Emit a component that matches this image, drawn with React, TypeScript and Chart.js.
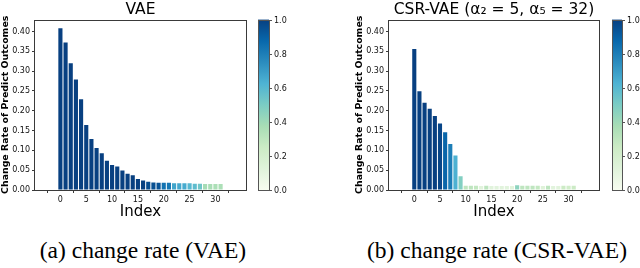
import React, { useEffect, useRef } from "react";
import { Chart, registerables } from "chart.js";

Chart.register(...registerables);

// ---- data ----
const indices = Array.from({ length: 32 }, (_, i) => i);
const xTickValues = [0, 5, 10, 15, 20, 25, 30];
const yTickValues = [0, 0.05, 0.1, 0.15, 0.2, 0.25, 0.3, 0.35, 0.4];
const colorbarTicks = [0, 0.2, 0.4, 0.6, 0.8, 1.0];

const vaeTitle = "VAE";
const vaeValues = [
  0.408, 0.372, 0.32, 0.279, 0.229, 0.164, 0.129, 0.106, 0.093, 0.074, 0.063,
  0.059, 0.049, 0.041, 0.037, 0.028, 0.024, 0.021, 0.019, 0.018, 0.018, 0.018,
  0.017, 0.017, 0.017, 0.017, 0.016, 0.016, 0.015, 0.015, 0.015, 0.015,
];
const vaeLevels = [
  1, 1, 1, 1, 1, 1, 1, 1, 1, 1, 1, 1, 1, 1, 1, 1, 1, 0.96, 0.95, 0.94, 0.84,
  0.82, 0.67, 0.66, 0.65, 0.6, 0.58, 0.53, 0.38, 0.37, 0.36, 0.36,
];

const csrTitle = "CSR-VAE (α₂ = 5, α₅ = 32)";
const csrValues = [
  0.356, 0.249, 0.22, 0.205, 0.187, 0.168, 0.146, 0.116, 0.087, 0.035, 0.011,
  0.011, 0.011, 0.01, 0.011, 0.01, 0.01, 0.01, 0.01, 0.01, 0.012, 0.011, 0.011,
  0.011, 0.011, 0.01, 0.011, 0.01, 0.01, 0.011, 0.011, 0.011,
];
const csrLevels = [
  1, 1, 1, 1, 1, 0.98, 0.88, 0.8, 0.63, 0.48, 0.3, 0.3, 0.28, 0.12, 0.3, 0.12,
  0.12, 0.12, 0.12, 0.12, 0.45, 0.3, 0.3, 0.3, 0.28, 0.14, 0.3, 0.12, 0.12,
  0.25, 0.22, 0.25,
];

const captionA = "(a) change rate (VAE)";
const captionB = "(b) change rate (CSR-VAE)";
const yAxisTitle = "Change Rate of Predict Outcomes";
const xAxisTitle = "Index";

// ---- colormap (GnBu) ----
const GNBU = [
  "#f7fcf0", "#e0f3db", "#ccebc5", "#a8ddb5", "#7bccc4",
  "#4eb3d3", "#2b8cbe", "#0868ac", "#084081",
];
function hexToRgb(h: string) {
  return [parseInt(h.slice(1, 3), 16), parseInt(h.slice(3, 5), 16), parseInt(h.slice(5, 7), 16)];
}
function gnbu(t: number) {
  const v = Math.max(0, Math.min(1, t)) * (GNBU.length - 1);
  const i = Math.min(GNBU.length - 2, Math.floor(v));
  const f = v - i;
  const a = hexToRgb(GNBU[i]);
  const b = hexToRgb(GNBU[i + 1]);
  const c = a.map((x, k) => Math.round(x + (b[k] - x) * f));
  return `rgb(${c[0]},${c[1]},${c[2]})`;
}

const FONT = "DejaVu Sans";
const SPINE = "#3a3a3a";

const framePlugin = {
  id: "cbframe",
  afterDraw(chart: any, _args: any, opts: any) {
    const { ctx, chartArea } = chart;
    const { left, right, top, bottom } = chartArea;
    ctx.save();
    ctx.strokeStyle = SPINE;
    ctx.lineWidth = 1;
    ctx.strokeRect(Math.round(left) - 0.5, Math.round(top) + 0.5, Math.round(right - left) + 1, Math.round(bottom - top));
    // colorbar
    const x0 = Math.round(right + opts.gap);
    const w = opts.width;
    const g = ctx.createLinearGradient(0, bottom, 0, top);
    GNBU.forEach((c, i) => g.addColorStop(i / (GNBU.length - 1), c));
    ctx.fillStyle = g;
    ctx.fillRect(x0, top, w, bottom - top);
    ctx.strokeStyle = "#555";
    ctx.strokeRect(x0 + 0.5, Math.round(top) + 0.5, w, Math.round(bottom - top));
    ctx.fillStyle = "#111";
    ctx.font = `8px '${FONT}'`;
    ctx.textBaseline = "middle";
    ctx.textAlign = "left";
    colorbarTicks.forEach((t) => {
      const y = Math.round(bottom - t * (bottom - top)) + 0.5;
      ctx.beginPath();
      ctx.moveTo(x0 + w, y);
      ctx.lineTo(x0 + w + 3, y);
      ctx.stroke();
      ctx.fillText(t.toFixed(1), x0 + w + 5, y);
    });
    ctx.restore();
  },
};

function makeConfig(title: string, values: number[], levels: number[], pad: any, cb: any) {
  return {
    type: "bar",
    data: {
      datasets: [
        {
          data: indices.map((x, i) => ({ x, y: values[i] })),
          backgroundColor: levels.map(gnbu),
          borderWidth: 0,
          barPercentage: 0.8,
          categoryPercentage: 1,
        },
      ],
    },
    plugins: [framePlugin],
    options: {
      responsive: false,
      animation: false,
      layout: { padding: pad },
      plugins: {
        legend: { display: false },
        tooltip: { enabled: false },
        title: {
          display: true,
          text: title,
          fullSize: false,
          color: "#000",
          font: { family: FONT, size: 15.5, weight: "normal", lineHeight: 1.2 },
          padding: { top: 0, bottom: 0 },
        },
        cbframe: cb,
      },
      scales: {
        x: {
          type: "linear",
          min: -2,
          max: 33,
          afterBuildTicks: (s: any) => {
            s.ticks = xTickValues.map((v) => ({ value: v }));
          },
          afterFit: (s: any) => {
            s.height = 31;
          },
          border: { display: false },
          grid: { drawOnChartArea: false, drawTicks: true, tickLength: 3, color: SPINE },
          ticks: {
            color: "#111",
            font: { family: FONT, size: 8 },
            padding: 2,
            maxRotation: 0,
            autoSkip: false,
            callback: (v: any) => String(v),
          },
          title: {
            display: true,
            text: xAxisTitle,
            color: "#000",
            font: { family: FONT, size: 15, lineHeight: 1.2 },
            padding: 0,
          },
        },
        y: {
          min: 0,
          max: 0.43,
          afterBuildTicks: (s: any) => {
            s.ticks = yTickValues.map((v) => ({ value: v }));
          },
          afterFit: (s: any) => {
            s.width = 35;
          },
          border: { display: false },
          grid: { drawOnChartArea: false, drawTicks: true, tickLength: 3, color: SPINE },
          ticks: {
            color: "#111",
            font: { family: FONT, size: 8 },
            padding: 2,
            autoSkip: false,
            callback: (v: any) => Number(v).toFixed(2),
          },
          title: {
            display: true,
            text: yAxisTitle,
            color: "#000",
            font: { family: FONT, size: 9.4, weight: "bold", lineHeight: 1.2 },
            padding: 0,
          },
        },
      },
    },
  };
}

function BarChart(props: { config: any; left: number }) {
  const ref = useRef<HTMLCanvasElement>(null);
  useEffect(() => {
    if (!ref.current) return;
    const chart = new Chart(ref.current, props.config);
    return () => chart.destroy();
  }, []);
  return (
    <canvas
      ref={ref}
      width={320}
      height={222}
      style={{ position: "absolute", left: props.left, top: 0, width: 320, height: 222 }}
    />
  );
}

const captionStyle: any = {
  position: "absolute",
  top: 238,
  height: 24,
  lineHeight: "24px",
  fontFamily: "'Liberation Serif', 'Times New Roman', serif",
  fontSize: 23.5,
  color: "#000",
  whiteSpace: "nowrap",
  textAlign: "center",
  width: 320,
};

export default function App() {
  const cfgA = makeConfig(vaeTitle, vaeValues, vaeLevels, { left: 0, right: 74, top: 1, bottom: 1 }, { gap: 12, width: 11 });
  const cfgB = makeConfig(csrTitle, csrValues, csrLevels, { left: 34, right: 41, top: 1, bottom: 1 }, { gap: 13, width: 10 });
  return (
    <div style={{ position: "fixed", left: 0, top: 0, width: 640, height: 268, background: "#fff", overflow: "hidden" }}>
      <BarChart config={cfgA} left={0} />
      <BarChart config={cfgB} left={320} />
      <div style={{ ...captionStyle, left: 143 - 160 }}>{captionA}</div>
      <div style={{ ...captionStyle, left: 497 - 160 }}>{captionB}</div>
    </div>
  );
}
